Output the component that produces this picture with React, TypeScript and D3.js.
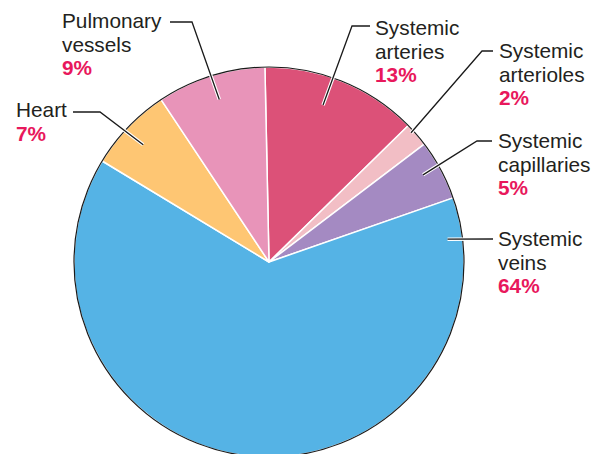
import React from 'react';
import * as d3 from 'd3';

// share of blood volume
const categories = ['Systemic arteries', 'Systemic arterioles', 'Systemic capillaries', 'Systemic veins', 'Heart', 'Pulmonary vessels'];
const values = [13, 2, 5, 64, 7, 9];
const labelLines = [
	['Systemic', 'arteries'],
	['Systemic', 'arterioles'],
	['Systemic', 'capillaries'],
	['Systemic', 'veins'],
	['Heart'],
	['Pulmonary', 'vessels'],
];
const colors = ['#dc5178', '#f2bec5', '#a48ac2', '#55b3e5', '#fec673', '#e894b9'];

// label placement: anchor angle (deg) / radius inside slice, elbow, text origin
const labelLayout = [
	{ a: 19, r: 166, elbow: [352, 26], end: [370, 26], tx: 375, ty: 35 },
	{ a: 47.7, r: 192, elbow: [482, 51], end: [493, 51], tx: 499, ty: 58 },
	{ a: 60.5, r: 177, elbow: [477, 141], end: [492, 141], tx: 498, ty: 148 },
	{ a: 82.7, r: 180, elbow: null, end: [493, 239], tx: 498, ty: 246 },
	{ a: -47, r: 172, elbow: [100, 112], end: [73, 112], tx: 16, ty: 117 },
	{ a: -17, r: 170, elbow: [192, 22], end: [170, 22], tx: 62, ty: 28 },
];

const W = 602;
const H = 454;
const cx = 269;
const cy = 262;
const R = 195;
const lineH = 23.5;
const font = '"Liberation Sans", Arial, Helvetica, sans-serif';

export default function App() {
	const rad = Math.PI / 180;
	const pie = d3
		.pie<number>()
		.sort(null)
		.value((d) => d)
		.startAngle(-1.2 * rad)
		.endAngle(358.8 * rad);
	const arcs = pie(values);
	const arc = d3.arc<d3.PieArcDatum<number>>().innerRadius(0).outerRadius(R);

	const leader = (i: number) => {
		const l = labelLayout[i];
		const p0: [number, number] = [
			cx + l.r * Math.sin(l.a * rad),
			cy - l.r * Math.cos(l.a * rad),
		];
		const pts: [number, number][] = [p0];
		if (l.elbow) pts.push(l.elbow as [number, number]);
		pts.push(l.end as [number, number]);
		return d3.line()(pts) as string;
	};

	return (
		<svg
			width={W}
			height={H}
			style={{ position: 'absolute', left: 0, top: 0, background: '#fff' }}
			fontFamily={font}
		>
			<g transform={`translate(${cx},${cy})`}>
				{arcs.map((d, i) => (
					<path
						key={categories[i]}
						d={arc(d) as string}
						fill={colors[i]}
						stroke='#fff'
						strokeWidth={1.5}
						strokeLinejoin='round'
					/>
				))}
				<circle r={R} fill='none' stroke='#1a1a1a' strokeWidth={1.2} />
			</g>
			{labelLayout.map((l, i) => (
				<g key={'lead' + i}>
					<path d={leader(i)} fill='none' stroke='#fff' strokeWidth={3.5} />
					<path d={leader(i)} fill='none' stroke='#1a1a1a' strokeWidth={1.3} />
				</g>
			))}
			{labelLayout.map((l, i) => (
				<text key={'lab' + i} x={l.tx} y={l.ty} fontSize={20.8} fill='#231f20'>
					{labelLines[i].map((s, j) => (
						<tspan key={j} x={l.tx} y={l.ty + j * lineH}>
							{s}
						</tspan>
					))}
					<tspan
						x={l.tx}
						y={l.ty + labelLines[i].length * lineH}
						fontWeight='bold'
						fill='#e8185c'
					>
						{values[i]}%
					</tspan>
				</text>
			))}
		</svg>
	);
}
